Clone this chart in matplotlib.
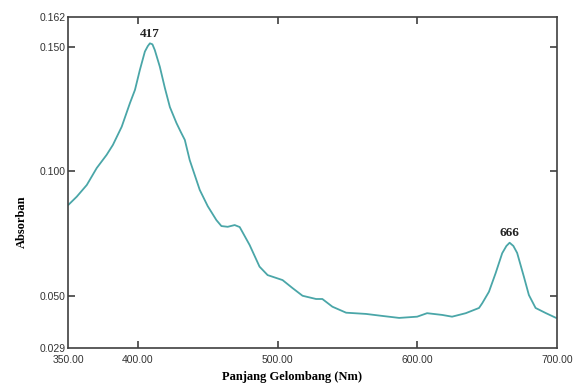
import matplotlib
matplotlib.use("Agg")
from matplotlib import pyplot as plt

# spectrum
wavelength = [350.2, 356.2, 363.4, 370.5, 377.6, 382.1, 388.4, 394.3, 397.9, 401.4,
              405.0, 407.1, 408.6, 410.4, 412.1, 415.7, 419.3, 422.9, 427.6, 430.7,
              433.6, 437.1, 441.9, 444.3, 450.0, 456.2, 459.8, 464.3, 469.3, 472.9,
              480.0, 487.1, 492.9, 503.6, 510.7, 517.9, 527.6, 532.1, 539.3, 549.1,
              563.4, 575.0, 587.1, 600.0, 607.1, 617.9, 625.0, 634.8, 644.3, 646.6,
              651.4, 656.2, 660.9, 663.9, 666.2, 668.9, 671.6, 676.4, 680.0, 684.8,
              691.9, 699.5]
absorbance = [0.0865, 0.0898, 0.0945, 0.1013, 0.1066, 0.1106, 0.1179, 0.1274, 0.1327, 0.1407,
              0.1481, 0.1503, 0.1514, 0.1510, 0.1487, 0.1420, 0.1335, 0.1258, 0.1194, 0.1158,
              0.1126, 0.1045, 0.0965, 0.0925, 0.0860, 0.0804, 0.0780, 0.0777, 0.0784, 0.0776,
              0.0704, 0.0617, 0.0583, 0.0563, 0.0531, 0.0500, 0.0487, 0.0487, 0.0456, 0.0432,
              0.0427, 0.0419, 0.0411, 0.0416, 0.0430, 0.0423, 0.0416, 0.0430, 0.0451, 0.0470,
              0.0516, 0.0591, 0.0671, 0.0700, 0.0713, 0.0700, 0.0672, 0.0577, 0.0503, 0.0451,
              0.0431, 0.0411]

peak_labels = ["417", "666"]
peak_x = [408.6, 666.2]
peak_y = [0.1514, 0.0713]

x_ticks = [350, 400, 500, 600, 700]
y_ticks = [0.029, 0.050, 0.100, 0.150, 0.162]

LINE_COLOUR = (0.29, 0.65, 0.66)
AXIS_COLOUR = (0.25, 0.25, 0.25)

fig = plt.figure(figsize=(5.77, 3.85), dpi=100)
ax = fig.add_axes([0.118, 0.096, 0.847, 0.860])

ax.plot(wavelength, absorbance, color=LINE_COLOUR, linewidth=1.3,
        solid_joinstyle="round", solid_capstyle="round")

for label, x, y in zip(peak_labels, peak_x, peak_y):
    ax.annotate(label, (x, y), xytext=(0, 2.5), textcoords="offset points",
                ha="center", va="bottom", fontsize=9.5, fontweight="bold",
                family="Liberation Serif", color="#222222")

ax.set_xlim(350, 700)
ax.set_ylim(0.029, 0.162)
ax.set_xticks(x_ticks)
ax.set_xticklabels([f"{v:.2f}" for v in x_ticks])
ax.set_yticks(y_ticks)
ax.set_yticklabels([f"{v:.3f}" for v in y_ticks])

ax.tick_params(direction="in", length=5, width=1.2, color=AXIS_COLOUR,
               top=True, right=True, labelsize=7.5, labelcolor="#333333")
ax.tick_params(axis="x", pad=5)
ax.tick_params(axis="y", pad=2)

# the end ticks carry a label but no mark
for tick in ax.xaxis.get_major_ticks()[::len(x_ticks) - 1] + ax.yaxis.get_major_ticks()[::len(y_ticks) - 1]:
    tick.tick1line.set_visible(False)
    tick.tick2line.set_visible(False)

for lab in ax.get_xticklabels() + ax.get_yticklabels():
    lab.set_family("Liberation Sans")
for side in ax.spines.values():
    side.set_color(AXIS_COLOUR)
    side.set_linewidth(1.2)

ax.set_xlabel("Panjang Gelombang (Nm)", family="Liberation Serif", fontweight="bold",
              fontsize=9)
ax.xaxis.set_label_coords(0.458, -0.068)
ax.set_ylabel("Absorban", family="Liberation Serif", fontweight="bold", fontsize=9)
ax.yaxis.set_label_coords(-0.082, 0.38)

fig.savefig("out.png", dpi=100)
